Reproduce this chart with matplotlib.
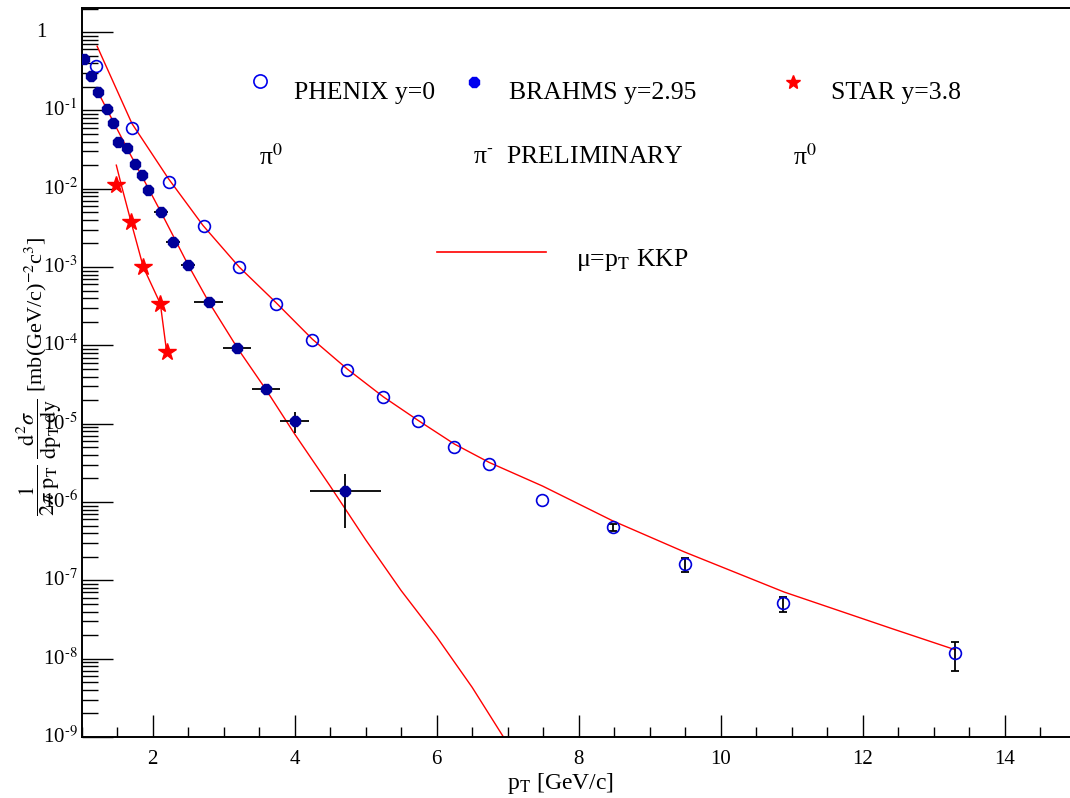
import numpy as np
import matplotlib
matplotlib.use("Agg")
import matplotlib.pyplot as plt
from matplotlib.ticker import MultipleLocator, LogLocator, NullFormatter

plt.rcParams["font.family"] = ["Liberation Serif", "DejaVu Serif"]
plt.rcParams["mathtext.fontset"] = "stix"

# PHENIX pi0, y=0
phenix_pt = [1.21, 1.71, 2.23, 2.73, 3.22, 3.74, 4.25, 4.74, 5.25, 5.74,
             6.25, 6.74, 7.48, 8.48, 9.49, 10.88, 13.30]
phenix_xs = [0.368, 0.0594, 0.0121, 3.33e-3, 1.0e-3, 3.36e-4, 1.16e-4, 4.82e-5,
             2.18e-5, 1.08e-5, 5.0e-6, 3.04e-6, 1.05e-6, 4.77e-7, 1.61e-7,
             5.1e-8, 1.17e-8]
phenix_err = [0, 0, 0, 0, 0, 0, 0, 0, 0, 0, 0, 0, 0, 0.45e-7, 0.34e-7,
              1.1e-8, 0.47e-8]

# BRAHMS pi-, y=2.95 (preliminary)
brahms_pt = [1.04, 1.13, 1.23, 1.36, 1.44, 1.52, 1.64, 1.75, 1.85, 1.94,
             2.12, 2.29, 2.50, 2.79, 3.19, 3.60, 4.00, 4.71]
brahms_xs = [0.45, 0.274, 0.171, 0.104, 0.0688, 0.0394, 0.033, 0.0206, 0.0149,
             0.0096, 5.0e-3, 2.08e-3, 1.06e-3, 3.56e-4, 9.2e-5, 2.76e-5,
             1.08e-5, 1.37e-6]
brahms_pt_err = [0.05, 0.05, 0.05, 0.05, 0.05, 0.05, 0.05, 0.05, 0.05, 0.05,
                 0.1, 0.1, 0.1, 0.2, 0.2, 0.2, 0.2, 0.5]
brahms_err = [0.02, 0.012, 0.008, 0.005, 0.003, 0.002, 0.0015, 0.001, 7e-4,
              5e-4, 2.5e-4, 1.0e-4, 5e-5, 2.5e-5, 8e-6, 4e-6, 3.2e-6, 0.9e-6]

# STAR pi0, y=3.8
star_pt = [1.49, 1.70, 1.87, 2.11, 2.20]
star_xs = [0.0111, 3.74e-3, 1.0e-3, 3.36e-4, 8.2e-5]

# NLO pQCD, mu=pT, KKP fragmentation
kkp_phenix_pt = [1.22, 1.71, 2.22, 2.71, 3.22, 3.74, 4.25, 4.74, 5.25, 5.74,
                 6.25, 6.74, 7.49, 8.47, 9.49, 10.89, 12.42, 13.30]
kkp_phenix = [0.66, 0.068, 0.0136, 3.4e-3, 1.0e-3, 3.5e-4, 1.2e-4, 5.0e-5,
              2.2e-5, 1.1e-5, 5.5e-6, 3.2e-6, 1.6e-6, 5.8e-7, 2.3e-7, 7.1e-8,
              2.4e-8, 1.3e-8]
kkp_brahms_pt = [1.22, 1.64, 2.12, 2.50, 2.79, 3.20, 3.60, 4.00, 4.50, 5.00,
                 5.50, 6.00, 6.50, 6.94, 7.10]
kkp_brahms = [0.18, 0.033, 5.0e-3, 1.07e-3, 3.6e-4, 9.1e-5, 2.7e-5, 7.4e-6,
              1.6e-6, 3.3e-7, 7.4e-8, 1.9e-8, 4.3e-9, 1.0e-9, 5.9e-10]
kkp_star_pt = [1.49, 1.56, 1.70, 1.87, 2.11, 2.20]
kkp_star = [0.020, 0.0112, 3.7e-3, 1.0e-3, 3.4e-4, 8.1e-5]

y_decades = [0, -1, -2, -3, -4, -5, -6, -7, -8, -9]

W, H = 1070, 798
fig = plt.figure(figsize=(W / 100, H / 100), dpi=100)
ax = fig.add_axes([81.5 / W, 1 - 737 / H, (1076 - 81.5) / W, (737 - 8) / H])

ax.set_yscale("log")
ax.set_xlim(1, 15)
ax.set_ylim(1e-9, 2.03)

red = "#ff0000"
ax.plot(kkp_phenix_pt, kkp_phenix, color=red, lw=1.0, zorder=2)
ax.plot(kkp_brahms_pt, kkp_brahms, color=red, lw=1.0, zorder=2)
ax.plot(kkp_star_pt, kkp_star, color=red, lw=1.0, zorder=2)

# PHENIX: only the errors larger than the marker get bars
pp = np.array(phenix_pt)
px = np.array(phenix_xs)
pe = np.array(phenix_err)
big = pe > 0
ax.errorbar(pp[big], px[big], yerr=pe[big], fmt="none", ecolor="black",
            elinewidth=1.3, capsize=3, capthick=1.3, zorder=3)
ax.plot(pp, px, "o", ms=8.5, mfc="none", mec="#0000dd", mew=1.2, zorder=4)

ax.errorbar(brahms_pt, brahms_xs, xerr=brahms_pt_err, yerr=brahms_err,
            fmt="none", ecolor="black", elinewidth=1.3, capsize=0, zorder=3)
ax.plot(brahms_pt, brahms_xs, "8", ms=8, color="#000099", mec="#000099",
        zorder=4)

ax.plot(star_pt, star_xs, "*", ms=13, color=red, mec=red, zorder=4)

# axes decoration, ROOT-like
ax.spines["right"].set_visible(False)
for side in ["left", "bottom", "top"]:
    ax.spines[side].set_linewidth(1.4)

ax.xaxis.set_major_locator(MultipleLocator(2))
ax.xaxis.set_minor_locator(MultipleLocator(0.5))
ax.yaxis.set_major_locator(LogLocator(base=10, numticks=20))
ax.yaxis.set_minor_locator(LogLocator(base=10, subs=np.arange(2, 10), numticks=20))
ax.yaxis.set_major_formatter(NullFormatter())
ax.yaxis.set_minor_formatter(NullFormatter())
ax.tick_params(axis="x", which="major", direction="in", length=15.8, width=1.0,
               labelsize=15, pad=9)
ax.tick_params(axis="x", which="minor", direction="in", length=7.2, width=1.0)
ax.tick_params(axis="y", which="major", direction="in", length=22.3, width=1.0)
ax.tick_params(axis="y", which="minor", direction="in", length=11.5, width=1.0)
ax.tick_params(top=False, right=False, which="both")

ytr = ax.get_yaxis_transform()
for d in y_decades:
    if d == 0:
        ax.text(-0.046, 10.0 ** d, "1", transform=ytr, ha="left", va="center",
                fontsize=15, zorder=5)
    else:
        ax.text(-0.039, 10.0 ** d, "10$^{\\text{-}%d}$" % -d, transform=ytr,
                ha="left", va="center", fontsize=15, zorder=5)

fig.text(560 / W, 1 - 783 / H, r"p$_{\mathrm{T}}$ [GeV/c]", ha="center",
         va="center", fontsize=17)
fig.text(40 / W, 1 - 376 / H,
         r"$\dfrac{1}{2\pi\ \mathrm{p}_\mathrm{T}}\ \dfrac{\mathrm{d}^2\sigma}{\mathrm{dp}_\mathrm{T}\,\mathrm{dy}}$"
         r" [mb(GeV/c)$^{-2}$c$^3$]",
         rotation=90, ha="center", va="center", fontsize=16)

# legend block
def fxy(x, y):
    return x / W, 1 - y / H

lab_fs = 18.5
fig.lines.append(plt.Line2D(*zip(fxy(260, 81)), marker="o", ms=9.5, mfc="none",
                            mec="#0000ee", mew=1.2, transform=fig.transFigure))
fig.lines.append(plt.Line2D(*zip(fxy(474, 82)), marker="8", ms=7.5,
                            color="#0000ee", transform=fig.transFigure))
fig.lines.append(plt.Line2D(*zip(fxy(793, 82)), marker="*", ms=10,
                            color=red, transform=fig.transFigure))
fig.text(*fxy(294, 93), "PHENIX y=0", fontsize=lab_fs, va="center")
fig.text(*fxy(509, 93), "BRAHMS y=2.95", fontsize=lab_fs, va="center")
fig.text(*fxy(831, 93), "STAR y=3.8", fontsize=lab_fs, va="center")
fig.text(*fxy(259, 157), "π$^0$", fontsize=lab_fs, va="center")
fig.text(*fxy(473, 157), "π$^{\\text{-}}$  PRELIMINARY", fontsize=lab_fs,
         va="center")
fig.text(*fxy(793, 157), "π$^0$", fontsize=lab_fs, va="center")
fig.lines.append(plt.Line2D([437 / W, 546 / W], [1 - 252 / H, 1 - 252 / H],
                            color=red, lw=1.2, transform=fig.transFigure))
fig.text(*fxy(576, 260), "μ=p$_\\mathrm{T}$ KKP", fontsize=lab_fs,
         va="center")

fig.savefig("out.png", dpi=100)
